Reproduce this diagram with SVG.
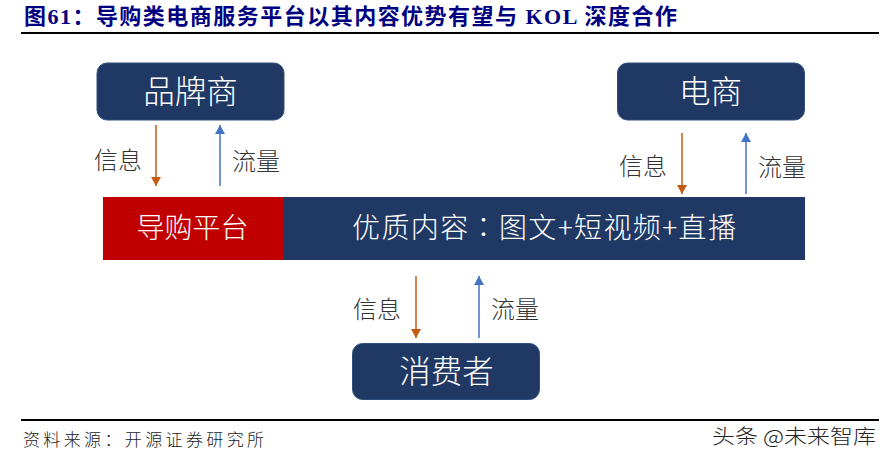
<svg xmlns="http://www.w3.org/2000/svg" width="890" height="462" viewBox="0 0 890 462">
<style>
.t{font-family:"Noto Sans CJK SC","Noto Sans",sans-serif}
.title{font-family:"Liberation Serif","Noto Sans CJK SC",serif}
.node{fill:#1f3864;stroke:#2f5080;stroke-width:1}
.w{fill:#fff;text-anchor:middle;font-size:31.500px;font-weight:300}
.p{fill:#fff;font-size:28px;font-weight:300;text-anchor:middle}
.l{fill:#333;font-size:24px;font-weight:300;text-anchor:middle}
.o{stroke:#c55a11;stroke-width:1.500;fill:none;marker-end:url(#ao)}
.b{stroke:#4472c4;stroke-width:1.500;fill:none;marker-end:url(#ab)}
</style>
<defs>
<marker id="ao" markerUnits="userSpaceOnUse" markerWidth="9" markerHeight="10" refX="9" refY="5" orient="auto" viewBox="0 0 9 10"><path d="M0 0L9 5L0 10Z" fill="#c55a11"/></marker>
<marker id="ab" markerUnits="userSpaceOnUse" markerWidth="9" markerHeight="10" refX="9" refY="5" orient="auto" viewBox="0 0 9 10"><path d="M0 0L9 5L0 10Z" fill="#4472c4"/></marker>
</defs>
<rect width="890" height="462" fill="#fff"/>
<text class="title" x="24" y="24" font-size="22" font-weight="700" fill="#000080" textLength="653" lengthAdjust="spacing">图61：导购类电商服务平台以其内容优势有望与 KOL 深度合作</text>
<rect x="21" y="32" width="858" height="2" fill="#000"/>
<g id="connectors">
<line class="o" x1="156" y1="125" x2="156" y2="186"/>
<line class="b" x1="220" y1="186" x2="220" y2="125"/>
<line class="o" x1="682" y1="133" x2="682" y2="194"/>
<line class="b" x1="746" y1="194" x2="746" y2="133"/>
<line class="o" x1="416" y1="276" x2="416" y2="338"/>
<line class="b" x1="479" y1="338" x2="479" y2="276"/>
</g>
<g id="node-brand"><rect class="node" x="97" y="63" width="187" height="57" rx="10"/><text class="t w" x="190.500" y="103">品牌商</text></g>
<g id="node-ecommerce"><rect class="node" x="617.500" y="63" width="187" height="57" rx="10"/><text class="t w" x="710.500" y="103">电商</text></g>
<g id="node-platform"><rect x="103" y="197" width="180" height="63" fill="#c00000"/><text class="t p" x="192.500" y="238">导购平台</text></g>
<g id="node-content"><rect x="283" y="197" width="522" height="63" fill="#1f3864"/><text class="t p" x="544" y="238" font-family="Noto Sans CJK TC" textLength="384" lengthAdjust="spacing">优质内容<tspan style="font-family:'Noto Sans CJK TC'">：</tspan>图文+短视频+直播</text></g>
<g id="node-consumer"><rect class="node" x="352.500" y="343.500" width="187" height="56" rx="10"/><text class="t w" x="446.500" y="383">消费者</text></g>
<text class="t l" x="118" y="169">信息</text>
<text class="t l" x="256" y="170">流量</text>
<text class="t l" x="643" y="175">信息</text>
<text class="t l" x="782" y="176">流量</text>
<text class="t l" x="377" y="318">信息</text>
<text class="t l" x="515" y="318">流量</text>
<rect x="21" y="419" width="858" height="2" fill="#000"/>
<text class="t" x="23" y="446" font-size="17" font-weight="300" fill="#222" textLength="241" lengthAdjust="spacing">资料来源：开源证券研究所</text>
<text class="t" x="712" y="444" font-size="20" font-weight="300" fill="#222" textLength="164" lengthAdjust="spacingAndGlyphs">头条 @未来智库</text>
</svg>
